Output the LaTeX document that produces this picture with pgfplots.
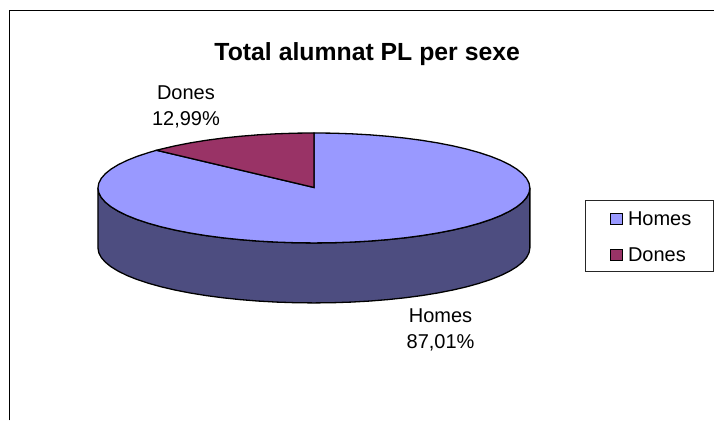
\documentclass[border=0pt]{standalone}
\usepackage{pgfplots}
\pgfplotsset{compat=1.18}
\usepackage{fontspec}
\setmainfont{Liberation Sans}
\definecolor{topblue}{HTML}{9999FF}
\definecolor{wine}{HTML}{993366}
\definecolor{sideblue}{HTML}{4D4D80}
\begin{document}
\begin{tikzpicture}
\begin{axis}[
  scale only axis, width=715pt, height=421pt,
  xmin=0, xmax=715, ymin=0, ymax=421, y dir=reverse,
  hide axis, clip=false,
]
% page extent
\addplot[draw=none, forget plot] coordinates {(0,0) (715,421)};
% frame (open on the right and at the bottom)
\addplot[black, line width=1.4pt, forget plot] coordinates {(9.5,420.5) (9.5,10.5) (714.5,10.5)};
% side wall
\addplot[fill=sideblue, draw=black, line width=1.3pt, forget plot] coordinates {
(530,188)(529.18,192.79)(526.72,197.55)(522.64,202.24)(516.97,206.81)(509.76,211.24)(501.06,215.5)(490.94,219.55)(479.46,223.35)(466.74,226.89)(452.84,230.13)(437.89,233.05)(422,235.63)(405.29,237.85)(387.88,239.68)(369.91,241.13)(351.51,242.16)(332.83,242.79)(314,243)
(295.17,242.79)(276.49,242.16)(258.09,241.13)(240.12,239.68)(222.71,237.85)(206,235.63)(190.11,233.05)(175.16,230.13)(161.26,226.89)(148.54,223.35)(137.06,219.55)(126.94,215.5)(118.24,211.24)(111.03,206.81)(105.36,202.24)(101.28,197.55)(98.82,192.79)(98,188)
(98,248)(98.82,252.79)(101.28,257.55)(105.36,262.24)(111.03,266.81)(118.24,271.24)(126.94,275.5)(137.06,279.55)(148.54,283.35)(161.26,286.89)(175.16,290.13)(190.11,293.05)(206,295.63)(222.71,297.85)(240.12,299.68)(258.09,301.13)(276.49,302.16)(295.17,302.79)(314,303)
(332.83,302.79)(351.51,302.16)(369.91,301.13)(387.88,299.68)(405.29,297.85)(422,295.63)(437.89,293.05)(452.84,290.13)(466.74,286.89)(479.46,283.35)(490.94,279.55)(501.06,275.5)(509.76,271.24)(516.97,266.81)(522.64,262.24)(526.72,257.55)(529.18,252.79)(530,248)
} -- cycle;
% top: Homes 87,01
\addplot[fill=topblue, draw=black, line width=1.3pt, forget plot] coordinates {
(314,187.5)(314,133)(332.83,133.21)(351.51,133.84)(369.91,134.87)(387.88,136.32)(405.29,138.15)(422,140.37)(437.89,142.95)(452.84,145.87)(466.74,149.11)(479.46,152.65)(490.94,156.45)(501.06,160.5)(509.76,164.76)(516.97,169.19)(522.64,173.76)(526.72,178.45)(529.18,183.21)(530,188)
(529.18,192.79)(526.72,197.55)(522.64,202.24)(516.97,206.81)(509.76,211.24)(501.06,215.5)(490.94,219.55)(479.46,223.35)(466.74,226.89)(452.84,230.13)(437.89,233.05)(422,235.63)(405.29,237.85)(387.88,239.68)(369.91,241.13)(351.51,242.16)(332.83,242.79)(314,243)
(295.17,242.79)(276.49,242.16)(258.09,241.13)(240.12,239.68)(222.71,237.85)(206,235.63)(190.11,233.05)(175.16,230.13)(161.26,226.89)(148.54,223.35)(137.06,219.55)(126.94,215.5)(118.24,211.24)(111.03,206.81)(105.36,202.24)(101.28,197.55)(98.82,192.79)(98,188)
(98.82,183.21)(101.28,178.45)(105.36,173.76)(111.03,169.19)(118.24,164.76)(126.94,160.5)(137.06,156.45)(148.54,152.65)(156.66,150.32)
} -- cycle;
% top: Dones 12,99
\addplot[fill=wine, draw=black, line width=1.3pt, forget plot] coordinates {
(314,187.5)(156.66,150.32)(161.26,149.11)(175.16,145.87)(190.11,142.95)(206,140.37)(222.71,138.15)(240.12,136.32)(258.09,134.87)(276.49,133.84)(295.17,133.21)(314,133)
} -- cycle;
% legend box
\addplot[fill=white, draw=black!85, line width=1pt, forget plot] coordinates {(585.5,200.5)(713.5,200.5)(713.5,272)(585.5,272)} -- cycle;
\addplot[only marks, mark=square*, mark size=5.8pt, mark options={fill=topblue, draw=black, line width=1.2pt}, forget plot] coordinates {(616.5,219)};
\addplot[only marks, mark=square*, mark size=5.8pt, mark options={fill=wine, draw=black, line width=1.2pt}, forget plot] coordinates {(616.5,255)};
\node[anchor=west, inner sep=0pt, font=\fontsize{20}{20}\selectfont] at (axis cs:628,219) {Homes};
\node[anchor=west, inner sep=0pt, font=\fontsize{20}{20}\selectfont] at (axis cs:628,255) {Dones};
% texts
\node[font=\bfseries\fontsize{24.8}{26}\selectfont] at (axis cs:367.3,54.5) {Total alumnat PL per sexe};
\node[align=center, font=\fontsize{20}{25.7}\selectfont] at (axis cs:186,107) {Dones\\12,99\%};
\node[align=center, font=\fontsize{20}{25.7}\selectfont] at (axis cs:440.7,330) {Homes\\87,01\%};
\end{axis}
\end{tikzpicture}
\end{document}
